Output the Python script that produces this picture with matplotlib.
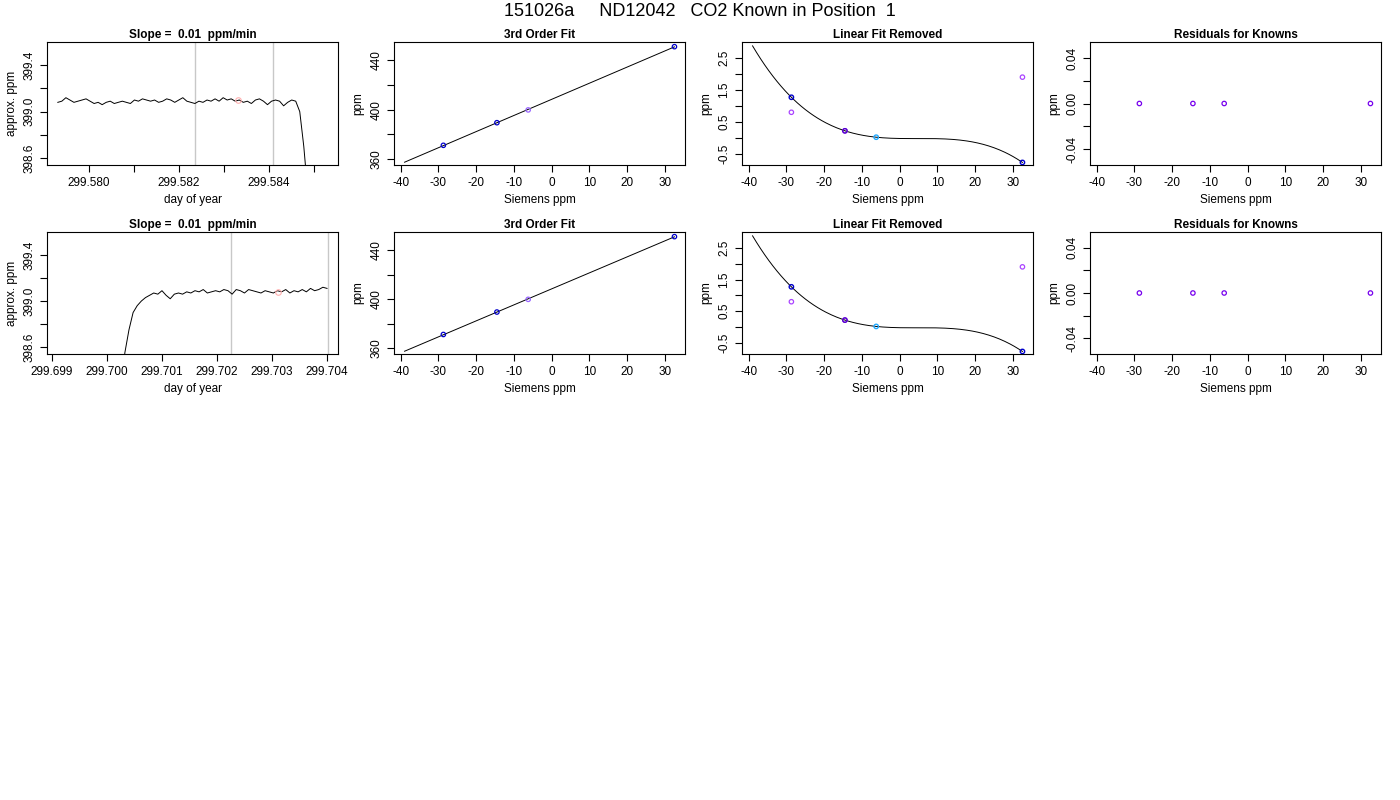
import numpy as np
import matplotlib
matplotlib.use("Agg")
import matplotlib.pyplot as plt

plt.rcParams['font.family'] = ['Liberation Sans', 'DejaVu Sans']
plt.rcParams['axes.unicode_minus'] = False

# ---- data ----
ts1_vals = [399.08,399.09,399.12,399.10,399.08,399.09,399.10,399.11,399.09,399.07,399.08,399.06,399.08,399.09,399.07,
            399.08,399.09,399.08,399.07,399.10,399.09,399.11,399.10,399.09,399.10,399.08,399.09,399.11,399.10,399.08,
            399.10,399.12,399.09,399.08,399.07,399.09,399.08,399.10,399.09,399.11,399.09,399.12,399.10,399.11,399.09,
            399.10,399.08,399.09,399.07,399.10,399.11,399.09,399.06,399.09,399.10,399.09,399.05,399.08,399.10,399.09,
            399.00,398.70,398.30]
ts1_start, ts1_end = 299.57931, 299.58486
ts1_vlines = [299.58236, 299.58409]
ts1_pt = (299.58331, 399.10)

ts2_vals = [398.10,398.55,398.75,398.90,398.96,399.00,399.03,399.05,399.07,399.06,399.09,399.05,399.02,399.06,399.07,
            399.06,399.08,399.07,399.09,399.08,399.10,399.07,399.08,399.09,399.08,399.10,399.09,399.06,399.10,399.09,
            399.07,399.10,399.09,399.08,399.07,399.09,399.08,399.07,399.09,399.08,399.10,399.07,399.09,399.08,399.10,
            399.08,399.11,399.09,399.10,399.12,399.11]
ts2_start, ts2_end = 299.70025, 299.70400
ts2_vlines = [299.70226, 299.70402]
ts2_pt = (299.70311, 399.08)

known_x = [-28.7, -14.5, -6.2, 32.6]
known_ppm = [371.0, 389.4, 399.8, 451.2]
known_colors = ['#0000cc', '#0000cc', '#9966ff', '#0000cc']
resid_lin = [1.27, 0.22, 0.02, -0.77]
resid_colors = ['#0000cc', '#5500cc', '#22aaff', '#0000cc']
extra_x = [-28.7, -14.5, 32.6]
extra_y = [0.80, 0.22, 1.90]
resid_known = [0.0, 0.0, 0.0, 0.0]

W, H = 1400, 800
fig = plt.figure(figsize=(14, 8), dpi=100)
fig.text(0.5, 1 - 12/800, "151026a     ND12042   CO2 Known in Position  1", ha='center', va='center', fontsize=13)

cols = [(47, 338), (394, 685), (742, 1033), (1090, 1381)]
rows = [(42, 165), (232, 354)]

def mkax(c, r):
    x0, x1 = cols[c]; y0, y1 = rows[r]
    ax = fig.add_axes([x0/W, 1 - y1/H, (x1-x0)/W, (y1-y0)/H])
    ax.tick_params(direction='out', length=5, labelsize=8.5, width=0.8)
    ax.tick_params(axis='y', labelrotation=90)
    for s in ax.spines.values():
        s.set_linewidth(0.8)
    return ax

def fix_ylabels(ax):
    for lab in ax.get_yticklabels():
        lab.set_va('center')

cubic = np.polyfit(known_x, resid_lin, 3)
lin = np.polyfit(known_x, known_ppm, 1)
xx = np.linspace(-39, 32.6, 200)

for r in range(2):
    ax = mkax(0, r)
    if r == 0:
        vals, s, e, vl, pt = ts1_vals, ts1_start, ts1_end, ts1_vlines, ts1_pt
        ax.set_xlim(299.57907, 299.58553)
        ax.set_xticks([299.580, 299.581, 299.582, 299.583, 299.584, 299.585])
        ax.set_xticklabels(['299.580', '', '299.582', '', '299.584', ''])
    else:
        vals, s, e, vl, pt = ts2_vals, ts2_start, ts2_end, ts2_vlines, ts2_pt
        ax.set_xlim(299.69891, 299.70420)
        ax.set_xticks([299.699, 299.700, 299.701, 299.702, 299.703, 299.704])
        ax.set_xticklabels(['299.699', '299.700', '299.701', '299.702', '299.703', '299.704'])
    t = np.linspace(s, e, len(vals))
    for v in vl:
        ax.axvline(v, color='#c8c8c8', lw=1)
    ax.plot(t, vals, color='black', lw=0.7)
    ax.plot(*pt, 'o', mfc='none', mec='#ffb0b0', ms=4, mew=0.8)
    ax.set_ylim(398.54, 399.60)
    ax.set_yticks([398.6, 398.8, 399.0, 399.2, 399.4])
    ax.set_yticklabels(['398.6', '', '399.0', '', '399.4'])
    fix_ylabels(ax)
    ax.set_title("Slope =  0.01  ppm/min", fontsize=8.5, fontweight='bold', pad=3)
    ax.set_xlabel("day of year", fontsize=8.5)
    ax.set_ylabel("approx. ppm", fontsize=8.5)

    ax = mkax(1, r)
    ax.plot(xx, np.polyval(lin, xx), color='black', lw=0.7)
    ax.scatter(known_x, known_ppm, s=10, facecolors='none', edgecolors=known_colors, linewidths=0.9, zorder=3)
    ax.set_xlim(-41.8, 35.4)
    ax.set_ylim(355, 455)
    ax.set_xticks(range(-40, 31, 10))
    ax.set_yticks([360, 380, 400, 420, 440])
    ax.set_yticklabels(['360', '', '400', '', '440'])
    fix_ylabels(ax)
    ax.set_title("3rd Order Fit", fontsize=8.5, fontweight='bold', pad=3)
    ax.set_xlabel("Siemens ppm", fontsize=8.5)
    ax.set_ylabel("ppm", fontsize=8.5)

    ax = mkax(2, r)
    ax.plot(xx, np.polyval(cubic, xx), color='black', lw=0.7)
    ax.scatter(extra_x, extra_y, s=10, facecolors='none', edgecolors='#aa44ff', linewidths=0.9, zorder=3)
    ax.scatter(known_x, resid_lin, s=10, facecolors='none', edgecolors=resid_colors, linewidths=1.0, zorder=4)
    ax.set_xlim(-41.8, 35.4)
    ax.set_ylim(-0.85, 3.0)
    ax.set_xticks(range(-40, 31, 10))
    ax.set_yticks([-0.5, 0, 0.5, 1.0, 1.5, 2.0, 2.5])
    ax.set_yticklabels(['-0.5', '', '0.5', '', '1.5', '', '2.5'])
    fix_ylabels(ax)
    ax.set_title("Linear Fit Removed", fontsize=8.5, fontweight='bold', pad=3)
    ax.set_xlabel("Siemens ppm", fontsize=8.5)
    ax.set_ylabel("ppm", fontsize=8.5)

    ax = mkax(3, r)
    ax.scatter(known_x, resid_known, s=10, facecolors='none', edgecolors='#7700ee', linewidths=0.9, zorder=3)
    ax.set_xlim(-41.8, 35.4)
    ax.set_ylim(-0.054, 0.054)
    ax.set_xticks(range(-40, 31, 10))
    ax.set_yticks([-0.04, -0.02, 0, 0.02, 0.04])
    ax.set_yticklabels(['-0.04', '', '0.00', '', '0.04'])
    fix_ylabels(ax)
    ax.set_title("Residuals for Knowns", fontsize=8.5, fontweight='bold', pad=3)
    ax.set_xlabel("Siemens ppm", fontsize=8.5)
    ax.set_ylabel("ppm", fontsize=8.5)

fig.savefig("out.png", dpi=100)
